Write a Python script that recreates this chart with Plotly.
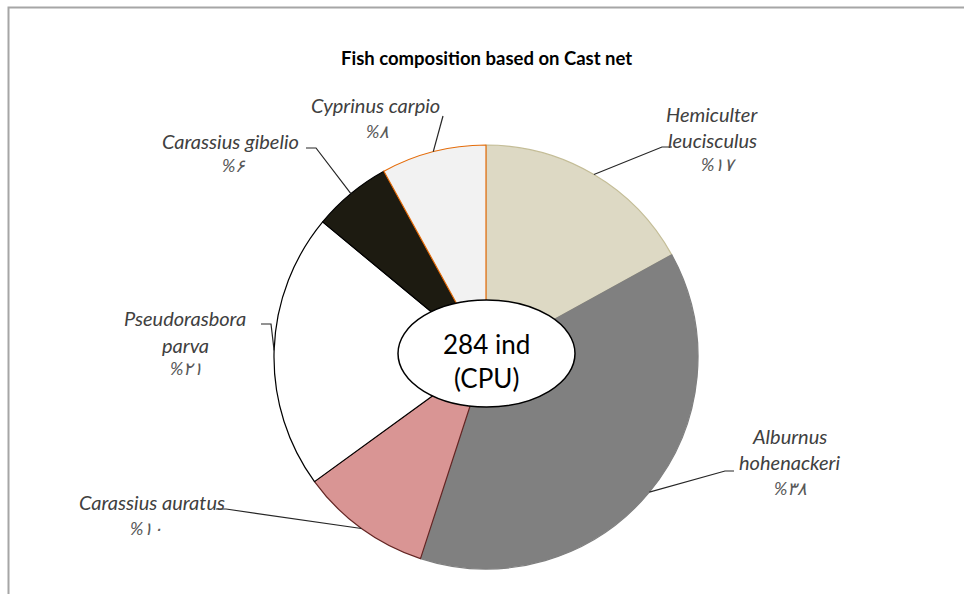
import math
import plotly.graph_objects as go

# Catch composition (percent of individuals) from the cast net
species = ["Hemiculter leucisculus", "Alburnus hohenackeri", "Carassius auratus",
           "Pseudorasbora parva", "Carassius gibelio", "Cyprinus carpio"]
percent = [17, 38, 10, 21, 6, 8]
total_individuals = 284
chart_title = "Fish composition based on Cast net"

slice_colors = ["#DDD9C4", "#808080", "#D99594", "#FFFFFF", "#1D1B11", "#F2F2F2"]
edge_colors = ["#C4BD97", "#7F7F7F", "#632523", "#000000", "#000000", "#E46C0A"]

W, H = 964, 594
CX, CY, R = 486, 357, 212          # pie centre and radius in pixels
LABEL_FONT = "Lato"
LABEL_COLOR = "#404040"

# where each label's text lines sit, and the elbow of its leader line (pixels)
label_layout = {
    "Hemiculter leucisculus": {"wrap": True, "x": 712, "y": [114, 140], "pct": (718, 164),
                               "leader": [(662, 147), (672, 147)]},
    "Alburnus hohenackeri": {"wrap": True, "x": 789, "y": [436, 462], "pct": (790, 488),
                             "leader": [(725, 471), (734, 471)]},
    "Carassius auratus": {"wrap": False, "x": 152, "y": [502], "pct": (146, 528),
                          "leader": [(226, 509), (216, 509)]},
    "Pseudorasbora parva": {"wrap": True, "x": 185, "y": [318, 345], "pct": (186, 368),
                            "leader": [(271, 324), (261, 324)]},
    "Carassius gibelio": {"wrap": False, "x": 230, "y": [141], "pct": (234, 165),
                          "leader": [(316, 148), (306, 148)]},
    "Cyprinus carpio": {"wrap": False, "x": 375, "y": [105], "pct": (377, 131),
                        "leader": [(443, 116)]},
}


def fx(px):
    return px / W


def fy(py):
    return 1 - py / H


def fa_digits(n):
    return str(n).translate(str.maketrans("0123456789", "۰۱۲۳۴۵۶۷۸۹"))


fig = go.Figure(go.Pie(
    labels=species,
    values=percent,
    sort=False,
    direction="clockwise",
    rotation=0,
    textinfo="none",
    hovertemplate="%{label}: %{value}%<extra></extra>",
    marker=dict(colors=slice_colors, line=dict(color=edge_colors, width=1.2)),
    domain=dict(x=[fx(CX - R), fx(CX + R)], y=[fy(CY + R), fy(CY - R)]),
    showlegend=False,
))

shapes = []
annotations = []

# outer chart frame
shapes.append(dict(type="rect", xref="paper", yref="paper",
                   x0=fx(8.5), x1=1.05, y0=-0.05, y1=fy(7.5),
                   line=dict(color="#A6A6A6", width=2), fillcolor="rgba(0,0,0,0)"))

total = sum(percent)
cum = 0
for name, val in zip(species, percent):
    mid = (cum + val / 2) / total
    cum += val
    ang = 2 * math.pi * mid                      # clockwise from 12 o'clock
    ex, ey = CX + R * math.sin(ang), CY - R * math.cos(ang)
    lay = label_layout[name]
    pts = [(ex, ey)] + lay["leader"]
    path = "M " + " L ".join(f"{fx(x):.5f},{fy(y):.5f}" for x, y in pts)
    shapes.append(dict(type="path", xref="paper", yref="paper", path=path,
                       line=dict(color="#262626", width=1.2)))

    lines = name.split(" ") if lay["wrap"] else [name]
    for txt, ly in zip(lines, lay["y"]):
        annotations.append(dict(x=fx(lay["x"]), y=fy(ly), xref="paper", yref="paper",
                                text=f"<i>{txt}</i>", showarrow=False,
                                xanchor="center", yanchor="middle",
                                font=dict(family=LABEL_FONT, size=20, color=LABEL_COLOR)))
    px_, py_ = lay["pct"]
    annotations.append(dict(x=fx(px_), y=fy(py_), xref="paper", yref="paper",
                            text=f"<i>%{fa_digits(val)}</i>", showarrow=False,
                            xanchor="center", yanchor="middle",
                            font=dict(family=LABEL_FONT, size=18, color="#595959")))

# central ellipse with the total catch
shapes.append(dict(type="circle", xref="paper", yref="paper", layer="above",
                   x0=fx(398), x1=fx(575), y0=fy(407), y1=fy(300),
                   line=dict(color="#000000", width=1.5), fillcolor="#FFFFFF"))
annotations.append(dict(x=fx(CX), y=fy(361), xref="paper", yref="paper",
                        text=f"{total_individuals} ind<br>(CPU)", showarrow=False,
                        font=dict(family=LABEL_FONT, size=26, color="#000000")))

annotations.append(dict(x=fx(486), y=fy(45), xref="paper", yref="paper",
                        text=f"<b>{chart_title}</b>", showarrow=False,
                        font=dict(family=LABEL_FONT, size=18.5, color="#000000")))

fig.update_layout(
    width=W, height=H,
    margin=dict(l=0, r=0, t=0, b=0),
    paper_bgcolor="#FFFFFF",
    shapes=shapes,
    annotations=annotations,
)

fig.write_html("out.html")
